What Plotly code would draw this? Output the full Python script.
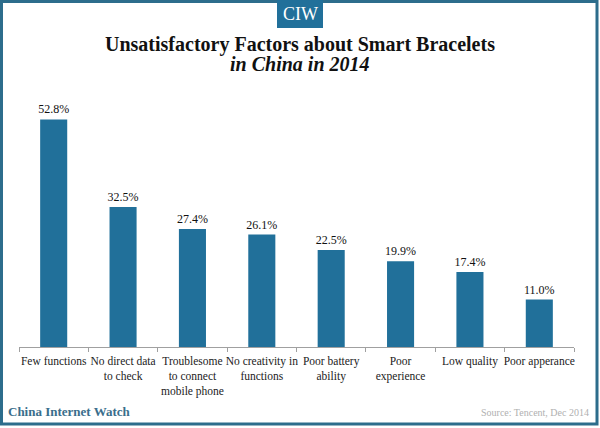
import plotly.graph_objects as go

categories = ["Few functions", "No direct data<br>to check", "Troublesome<br>to connect<br>mobile phone",
              "No creativity in<br>functions", "Poor battery<br>ability", "Poor<br>experience",
              "Low quality", "Poor apperance"]
values = [52.8, 32.5, 27.4, 26.1, 22.5, 19.9, 17.4, 11.0]

W, H = 600, 428
L, R, T, B = 19, 26, 100, 81
PW, PH = W - L - R, H - T - B

def px(x):
    return (x - L) / PW

def py(y):
    return (H - B - y) / PH

BLUE = "#21709a"
SERIF = "Liberation Serif, Times New Roman, serif"

fig = go.Figure(go.Bar(
    x=categories, y=values, marker_color=BLUE, marker_line_width=0,
    text=[f"{v:.1f}%" for v in values], textposition="outside", constraintext="none",
    textfont=dict(family=SERIF, size=12, color="#111"), cliponaxis=False,
))

fig.update_layout(
    width=W, height=H, margin=dict(l=L, r=R, t=T, b=B, autoexpand=False),
    paper_bgcolor="white", plot_bgcolor="white", showlegend=False,
    bargap=0.61,
    xaxis=dict(showline=True, linecolor="#a0a0a0", linewidth=1, ticks="outside", tickson="boundaries",
               ticklen=4, tickcolor="#a0a0a0", tickangle=0, automargin=False, ticklabelstandoff=3,
               tickfont=dict(family=SERIF, size=11.5, color="#222"),
               showgrid=False, fixedrange=True),
    yaxis=dict(visible=False, range=[0, PH / 4.31], showgrid=False),
    shapes=[
        dict(type="rect", xref="paper", yref="paper", x0=px(1.5), x1=px(597), y0=py(424), y1=py(1.5),
             line=dict(color="#2d6d8c", width=3), fillcolor="rgba(0,0,0,0)", layer="below"),
        dict(type="rect", xref="paper", yref="paper", x0=px(277), x1=px(323), y0=py(28), y1=py(0),
             line=dict(width=0), fillcolor=BLUE),
    ],
    annotations=[
        dict(text="CIW", x=px(300), y=py(14), xref="paper", yref="paper", showarrow=False,
             font=dict(family=SERIF, size=18, color="white"), xanchor="center", yanchor="middle"),
        dict(text="<b>Unsatisfactory Factors about Smart Bracelets</b>", x=px(300), y=py(44),
             xref="paper", yref="paper", showarrow=False, xanchor="center", yanchor="middle",
             font=dict(family=SERIF, size=20, color="#111")),
        dict(text="<b><i>in China in 2014</i></b>", x=px(300), y=py(64),
             xref="paper", yref="paper", showarrow=False, xanchor="center", yanchor="middle",
             font=dict(family=SERIF, size=20, color="#111")),
        dict(text="<b>China Internet Watch</b>", x=px(6), y=py(411), xref="paper", yref="paper",
             showarrow=False, xanchor="left", yanchor="middle",
             font=dict(family=SERIF, size=13, color="#3a6e8c")),
        dict(text="Source: Tencent, Dec 2014", x=px(591), y=py(412), xref="paper", yref="paper",
             showarrow=False, xanchor="right", yanchor="middle",
             font=dict(family=SERIF, size=10, color="#b0b0b0")),
    ],
)

fig.write_html("out.html", config={"displayModeBar": False},
               post_script="document.body.style.margin='0';")
